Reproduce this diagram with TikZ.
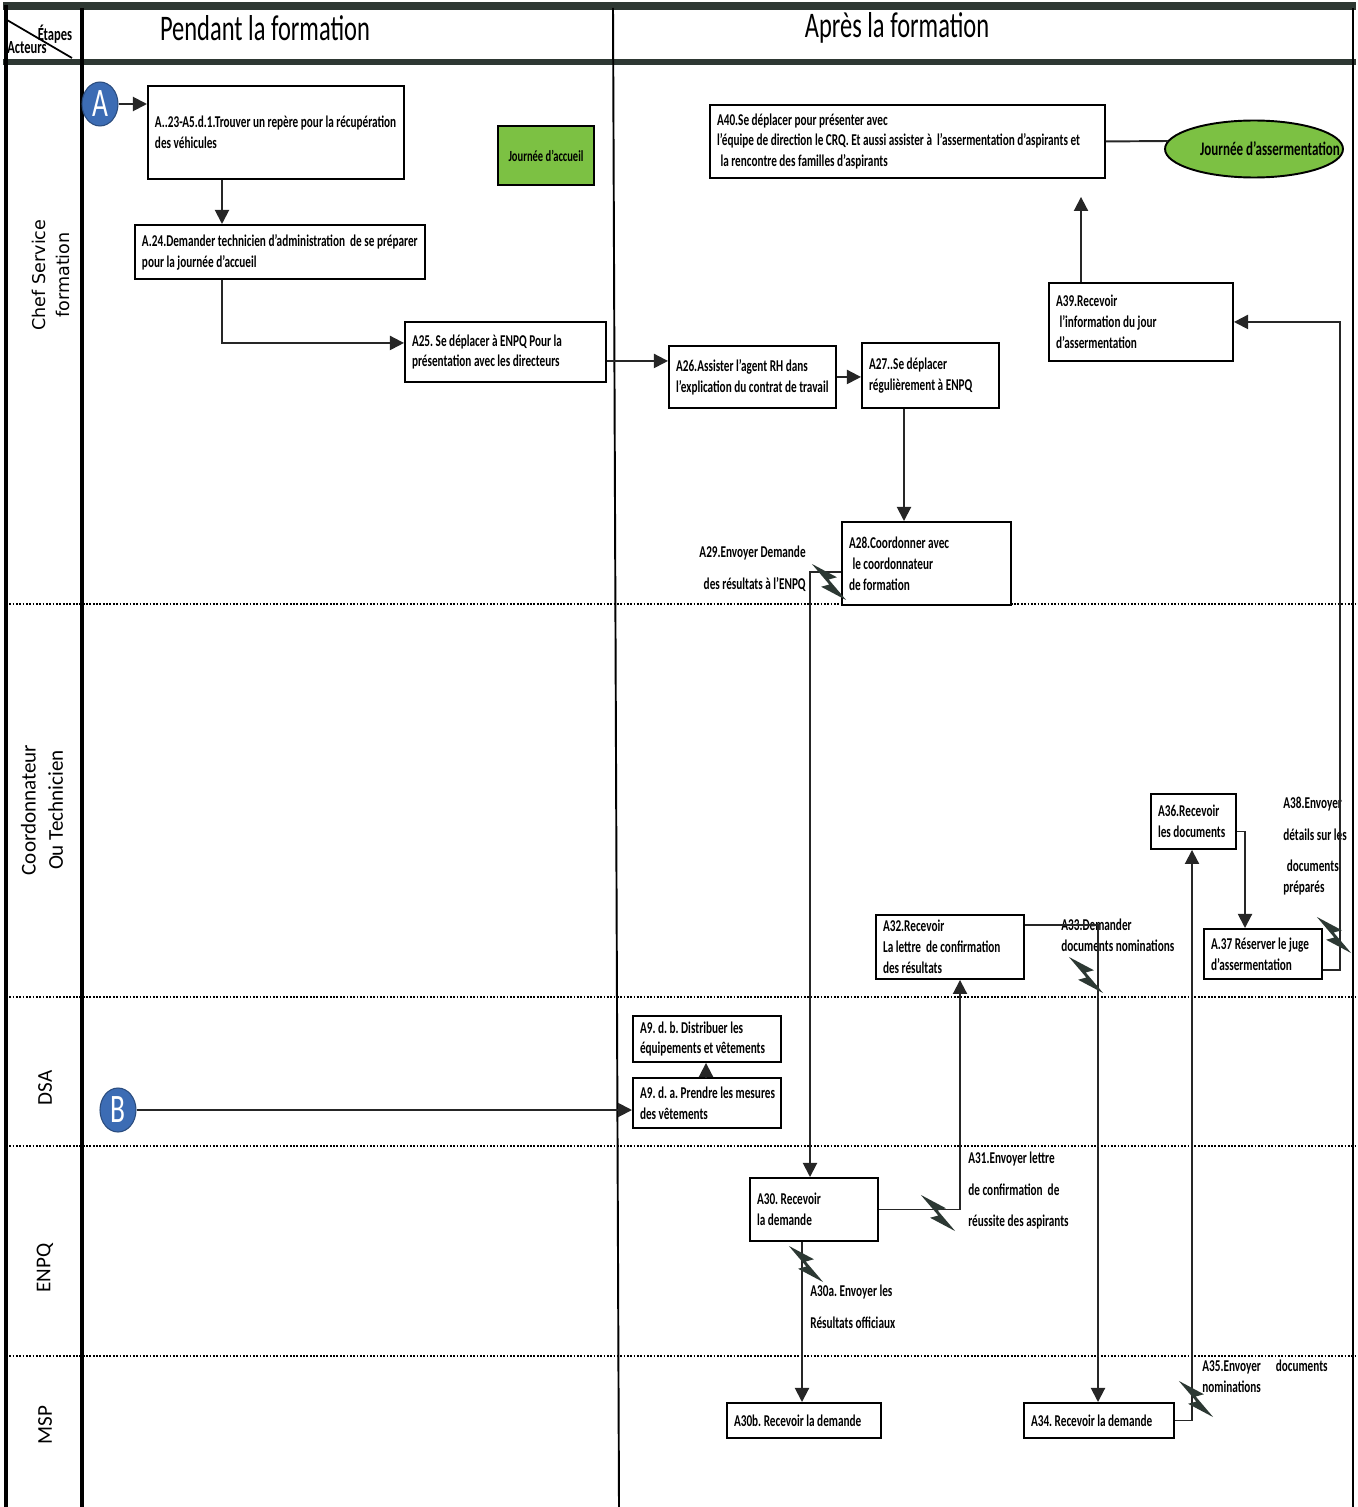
\documentclass[tikz,border=0pt]{standalone}
\usepackage{fontspec}
\newfontfamily\actfont[FakeStretch=0.68]{Carlito}
\newfontfamily\lanefont{Carlito}
\newfontfamily\chfont{DejaVu Sans}
\usetikzlibrary{arrows.meta,positioning,calc,shapes.geometric}
\definecolor{lineclr}{HTML}{262626}
\definecolor{boltclr}{HTML}{2C3833}
\definecolor{greenfill}{HTML}{7CC143}
\definecolor{bluecirc}{HTML}{3C6CB4}
\definecolor{bandclr}{HTML}{2E3833}
\tikzset{
actbox/.style={
  draw=black,
  line width=1.1pt,
  fill=white,
  anchor=north west,
  align=flush left,
  inner xsep=0pt,
  inner ysep=0pt,
  execute at begin node={\leftskip=4pt\relax\hyphenpenalty=10000\relax},
  font=\actfont\bfseries\fontsize{9.4}{11.9}\selectfont
  },
box/.code 2 args={%
  \pgfmathsetlengthmacro\boxw{#1*0.02cm}%
  \pgfmathsetlengthmacro\boxh{#2*0.02cm}%
  \tikzset{minimum width=\boxw,minimum height=\boxh,text width=\boxw}%
  },
msg/.style={
  inner sep=0pt,
  align=left,
  anchor=north west,
  font=\actfont\bfseries\fontsize{9.4}{11.9}\selectfont
  }
}
\tikzset{
  flow/.style={draw=lineclr, line width=1.1pt, ->},
  laneline/.style={draw=black, line width=1.4pt, dash pattern=on 1pt off 0.9pt},
  lanelbl/.style={rotate=90, align=center, font=\lanefont\fontsize{12}{15.4}\selectfont},
  startcirc/.style={ellipse, fill=bluecirc, draw=bluecirc!70!black, line width=0.6pt,
    text=white, inner sep=0pt, minimum width=0.72cm, minimum height=0.88cm,
    font=\actfont\fontsize{23}{23}\selectfont},
  hdr/.style={font=\actfont\fontsize{20.5}{24}\selectfont},
  bolt/.pic={\fill[boltclr] (-17.2,-18.1) -- (7.9,-4.75) -- (-0.3,-2.5) -- (17.2,18.1)
    -- (-7.9,4.75) -- (0.3,2.5) -- cycle;}
}

\begin{document}
\frenchspacing
\begin{tikzpicture}[x=0.02cm,y=-0.02cm,>={Triangle[length=8pt,width=8pt]}]
\useasboundingbox (0,0) rectangle (1358,1507);
\draw[bandclr, line width=4pt] (3,6) -- (1356,6);
\draw[bandclr, line width=3.5pt] (3,62) -- (1356,62);
\draw[black, line width=2pt] (6,5) -- (6,1507);
\draw[black, line width=2.6pt] (82,8) -- (82,1507);
\draw[black, line width=1.1pt] (613,8) -- (619,1507);
\draw[black, line width=1.1pt] (1353,8) -- (1353,1507);
\foreach \y in {604,997,1146,1356} \draw[laneline] (6,\y) -- (1358,\y);
\draw[line width=1pt] (7,20) -- (72,58);

\node[hdr] (pendant) at (265,28) {Pendant la formation};
\node[hdr] (apres) at (897,28) {Après la formation};
\node[inner sep=0pt, font=\actfont\bfseries\fontsize{10.5}{12}\selectfont] (etapes) at (55,34) {Étapes};
\node[inner sep=0pt, font=\actfont\bfseries\fontsize{10.5}{12}\selectfont] (acteurs) at (27,48) {Acteurs};

\node[lanelbl, font=\chfont\fontsize{10}{13.5}\selectfont] (chef) at (51,275) {Chef Service\\formation};
\node[lanelbl] (coord) at (42,810) {Coordonnateur\\Ou Technicien};
\node[lanelbl] (dsa) at (45,1088) {DSA};
\node[lanelbl] (enpq) at (45,1268) {ENPQ};
\node[lanelbl] (msp) at (45,1425) {MSP};

\node[startcirc] (ca) at (100,104) {A};
\node[startcirc] (cb) at (118,1110) {B};

\node[actbox, box={256}{93}] (a23) at (147,85) {A..23-A5.d.1.Trouver un repère pour la récupération\\des véhicules};
\node[actbox, fill=greenfill, align=center, execute at begin node={}, inner sep=0pt,
  minimum width=1.92cm, minimum height=1.18cm, font=\actfont\bfseries\fontsize{8.8}{11}\selectfont] (accueil) at (497,125) {Journée d’accueil};
\node[actbox, box={290}{54}] (a24) at (134,224) {A.24.Demander technicien d’administration\ \ de se préparer\\pour la journée d’accueil};
\node[actbox, box={201}{60}] (a25) at (404,321) {A25. Se déplacer à ENPQ Pour la\\présentation avec les directeurs};
\node[actbox, box={167}{62}] (a26) at (668,345) {A26.Assister l’agent RH dans\\l’explication du contrat de travail};
\node[actbox, box={137}{65}] (a27) at (861,342) {A27..Se déplacer\\régulièrement à ENPQ};
\node[actbox, box={169}{83}] (a28) at (841,521) {A28.Coordonner avec\\\hspace*{2pt}le coordonnateur\\de formation};
\node[actbox, box={184}{78}] (a39) at (1048,282) {A39.Recevoir\\\hspace*{2pt}l’information du jour\\d’assermentation};
\node[actbox, box={395}{73}] (a40) at (709,104) {A40.Se déplacer pour présenter avec\\l’équipe de direction le CRQ. Et aussi assister à\ \ l’assermentation d’aspirants et\\\hspace*{2pt}la rencontre des familles d’aspirants};
\node[ellipse, draw=black, line width=1.1pt, fill=greenfill, inner sep=0pt,
  minimum width=3.56cm, minimum height=1.14cm,
  label={[font=\actfont\bfseries\fontsize{10.9}{12}\selectfont, xshift=0.32cm]center:Journée d’assermentation}] (jas) at (1254,149) {};
\node[actbox, box={85}{55}] (a36) at (1150,793) {A36.Recevoir\\les documents};
\node[actbox, box={118}{50}] (a37) at (1203,928) {A.37 Réserver le juge\\d’assermentation};
\node[actbox, box={148}{64}] (a32) at (875,914) {A32.Recevoir\\La lettre\ \ de confirmation\\des résultats};
\node[actbox, box={148}{46}] (a9db) at (632,1015) {A9. d. b. Distribuer les\\équipements et vêtements};
\node[actbox, box={148}{50}] (a9da) at (632,1077) {A9. d. a. Prendre les mesures\\des vêtements};
\node[actbox, box={128}{63}] (a30) at (749,1177) {A30. Recevoir\\la demande};
\node[actbox, box={154}{35}] (a30b) at (726,1402) {A30b. Recevoir la demande};
\node[actbox, box={150}{35}] (a34) at (1023,1402) {A34. Recevoir la demande};

\node[msg, align=right, anchor=north east] (m29) at (806,546) {A29.Envoyer Demande\\[6pt]des résultats à l’ENPQ};
\node[msg] (m31) at (968,1152) {A31.Envoyer lettre\\[6pt]de confirmation\ \ de\\[6pt]réussite des aspirants};
\node[msg] (m30a) at (810,1285) {A30a. Envoyer les\\[6pt]Résultats officiaux};
\node[msg] (m33) at (1061,919) {A33.Demander\\documents nominations};
\node[msg] (m35) at (1202,1360) {A35.Envoyer\hspace{7pt} documents\\nominations};
\node[msg] (m38) at (1283,797) {A38.Envoyer\\[6pt]détails sur les\\[6pt]\hspace*{2pt}documents\\préparés};

\draw[flow] (ca.east) -- (ca.east -| a23.west);
\draw[flow] ($(a23.south west)+(75,0)$) -- ($(a24.north west)+(88,0)$);
\draw[flow] ($(a24.south west)+(88,0)$) |- ($(a25.west)+(0,-9)$);
\draw[flow] ($(a25.east)+(0,9)$) -- ($(a26.west)+(0,-16)$);
\draw[flow] (a26.east) -- (a26.east -| a27.west);
\draw[flow] ($(a27.south west)+(43,0)$) -- ($(a28.north west)+(63,0)$);
\draw[flow] ($(a28.north west)+(0,51)$) -| ($(a30.north west)+(61,0)$);
\draw[flow] ($(a30.south west)+(53,0)$) -- ($(a30b.north west)+(76,0)$);
\draw[flow] (a30.east) -| ($(a32.south west)+(85,0)$);
\draw[flow] ($(a32.north east)+(0,11)$) -| ($(a34.north west)+(75,0)$);
\draw[flow] (a34.east) -| ($(a36.south west)+(42,0)$);
\draw[flow] ($(a36.east)+(0,10)$) -| ($(a37.north west)+(42,0)$);
\draw[flow] ($(a37.south east)+(0,-10)$) -- ++(17,0) |- (a39.east);
\draw[flow] ($(a39.north west)+(33,0)$) -- ($(a40.south west)+(372,18)$);
\draw[draw=lineclr, line width=1.1pt] (a40.east) -- ($(jas.west)+(4,-8)$);
\draw[flow] (cb.east) -- (cb.east -| a9da.west);
\draw[flow] ($(a9da.north west)+(74,0)$) -- ($(a9db.south west)+(74,0)$);

\pic at (829,582) {bolt};
\pic at (938,1213) {bolt};
\pic at (806,1264) {bolt};
\pic at (1086,975) {bolt};
\pic at (1196,1399) {bolt};
\pic at (1334,935) {bolt};
\end{tikzpicture}
\end{document}
